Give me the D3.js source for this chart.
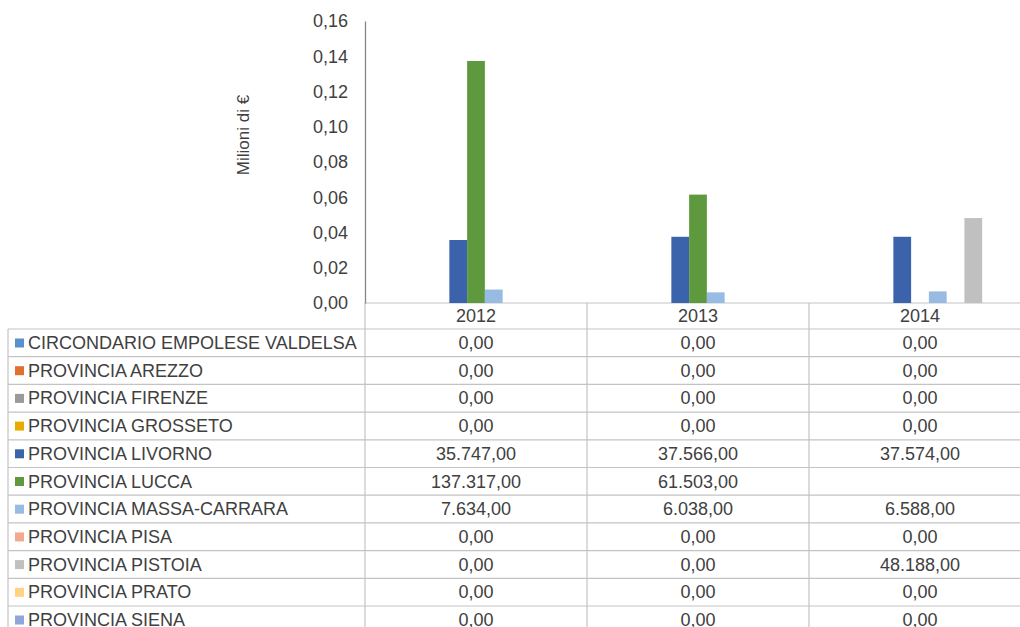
<!DOCTYPE html>
<html>
<head>
<meta charset="utf-8">
<title>Index</title>
<script src="https://cdn.jsdelivr.net/npm/d3@7"></script>
<style>
    body { margin: 0; background: #fff; }
    svg { display: block; font-family: "Liberation Sans", Arial, sans-serif; }
</style>
</head>
<body>
<script>
// data (euro)
var years = ['2012', '2013', '2014'];
var entities = [
    'CIRCONDARIO EMPOLESE VALDELSA',
    'PROVINCIA AREZZO',
    'PROVINCIA FIRENZE',
    'PROVINCIA GROSSETO',
    'PROVINCIA LIVORNO',
    'PROVINCIA LUCCA',
    'PROVINCIA MASSA-CARRARA',
    'PROVINCIA PISA',
    'PROVINCIA PISTOIA',
    'PROVINCIA PRATO',
    'PROVINCIA SIENA'
];
var values2012 = [0, 0, 0, 0, 35747, 137317, 7634, 0, 0, 0, 0];
var values2013 = [0, 0, 0, 0, 37566, 61503, 6038, 0, 0, 0, 0];
var values2014 = [0, 0, 0, 0, 37574, null, 6588, 0, 48188, 0, 0];
var yTicks = [0, 0.02, 0.04, 0.06, 0.08, 0.10, 0.12, 0.14, 0.16];
var colors = ['#5891cb', '#e0702f', '#9a9a9a', '#e8ac00', '#3b63ab', '#5f993e',
    '#97bbe3', '#f3a98e', '#c0c0c0', '#ffd382', '#8ea6d9'];

var byYear = { '2012': values2012, '2013': values2013, '2014': values2014 };

var W = 1020, H = 627;
var plotLeft = 365, plotTop = 21, zeroY = 303;
var rowTop = 329, rowH = 27.7, tableLeft = 8;
var textColor = '#404040', gridColor = '#c3c3c3';

var it = d3.formatLocale({ decimal: ',', thousands: '.', grouping: [3], currency: ['', '€'] });
var fmtTick = it.format(',.2f');
var fmtVal = it.format(',.2f');

var svg = d3.select('body').append('svg')
    .attr('width', W)
    .attr('height', H);

var x0 = d3.scaleBand().domain(years).range([plotLeft, 1031]);
var x1 = d3.scaleBand().domain(entities).range([0, x0.bandwidth()]).paddingOuter(0.75);
var y = d3.scaleLinear().domain([0, 0.16]).range([zeroY, plotTop]);
var color = d3.scaleOrdinal().domain(entities).range(colors);

// data table grid (under the bars)
var nRows = entities.length;
var tableBottom = rowTop + rowH * nRows;
var grid = svg.append('g').attr('stroke', gridColor).attr('stroke-width', 1.2);
grid.append('line')
    .attr('x1', plotLeft).attr('x2', W)
    .attr('y1', zeroY).attr('y2', zeroY);
grid.selectAll('.hrow')
    .data(d3.range(nRows + 1))
    .enter()
    .append('line')
    .attr('x1', tableLeft).attr('x2', W)
    .attr('y1', function(i) { return rowTop + i * rowH; })
    .attr('y2', function(i) { return rowTop + i * rowH; });
grid.append('line')
    .attr('x1', tableLeft).attr('x2', tableLeft)
    .attr('y1', rowTop).attr('y2', tableBottom);
grid.selectAll('.vcol')
    .data(years)
    .enter()
    .append('line')
    .attr('x1', function(d) { return x0(d); })
    .attr('x2', function(d) { return x0(d); })
    .attr('y1', zeroY).attr('y2', tableBottom);

// bars
var flat = [];
years.forEach(function(yr) {
    entities.forEach(function(e, i) {
        var v = byYear[yr][i];
        if (v) flat.push({ year: yr, name: e, v: v / 1e6 });
    });
});
svg.append('g').selectAll('rect')
    .data(flat)
    .enter()
    .append('rect')
    .attr('x', function(d) { return x0(d.year) + x1(d.name); })
    .attr('y', function(d) { return y(d.v); })
    .attr('width', x1.bandwidth())
    .attr('height', function(d) { return zeroY - y(d.v); })
    .attr('fill', function(d) { return color(d.name); });

// y axis
var yAxis = svg.append('g')
    .attr('transform', 'translate(' + plotLeft + ',0)')
    .call(d3.axisLeft(y).tickValues(yTicks).tickSize(0).tickSizeOuter(0).tickPadding(17).tickFormat(fmtTick));
yAxis.select('.domain').attr('stroke', '#868686').attr('stroke-width', 1.3);
yAxis.selectAll('text')
    .attr('fill', textColor)
    .style('font-size', '18px')
    .style('font-family', '"Liberation Sans", Arial, sans-serif');

svg.append('text')
    .attr('transform', 'translate(249,135) rotate(-90)')
    .attr('text-anchor', 'middle')
    .attr('fill', textColor)
    .style('font-size', '17px')
    .text('Milioni di €');

// category labels
svg.append('g').selectAll('text')
    .data(years)
    .enter()
    .append('text')
    .attr('x', function(d) { return x0(d) + x0.bandwidth() / 2; })
    .attr('y', 322)
    .attr('text-anchor', 'middle')
    .attr('fill', textColor)
    .style('font-size', '18px')
    .text(function(d) { return d; });

// legend column
var rows = svg.append('g').selectAll('g')
    .data(entities)
    .enter()
    .append('g')
    .attr('transform', function(d, i) { return 'translate(0,' + (rowTop + i * rowH) + ')'; });
rows.append('rect')
    .attr('x', 15).attr('y', 9.5)
    .attr('width', 9).attr('height', 9)
    .attr('fill', function(d) { return color(d); });
rows.append('text')
    .attr('x', 28).attr('y', 20)
    .attr('fill', textColor)
    .style('font-size', '18px')
    .text(function(d) { return d; });

// values
years.forEach(function(yr) {
    rows.append('text')
        .attr('x', x0(yr) + x0.bandwidth() / 2)
        .attr('y', 20)
        .attr('text-anchor', 'middle')
        .attr('fill', textColor)
        .style('font-size', '18px')
        .text(function(d, i) {
            var v = byYear[yr][i];
            return v === null ? '' : fmtVal(v);
        });
});
</script>
</body>
</html>
